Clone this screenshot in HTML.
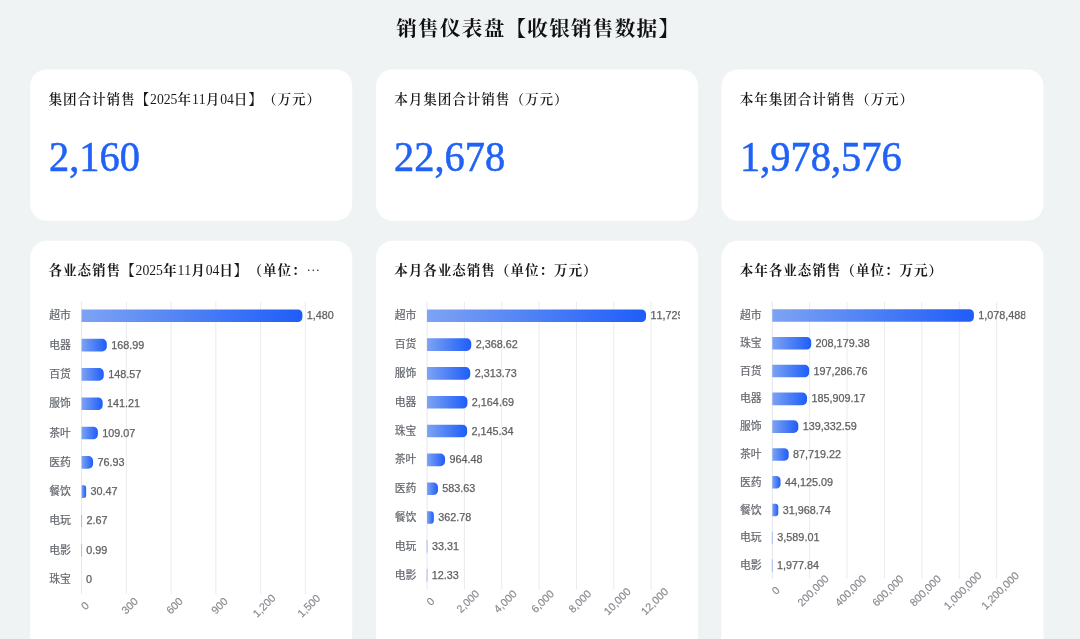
<!DOCTYPE html>
<html lang="zh-CN">
<head>
<meta charset="utf-8">
<title>销售仪表盘【收银销售数据】</title>
<style>
html,body{margin:0;padding:0;}
body{width:1080px;height:639px;overflow:hidden;background:#eff3f4;position:relative;
 font-family:"Liberation Serif","Noto Serif CJK SC",serif;color:#1a1a1a;
 text-spacing-trim:space-all;font-kerning:none;font-feature-settings:"chws" 0,"halt" 0,"palt" 0;}
.title{position:absolute;left:0;width:1076.5px;top:11.5px;height:34px;line-height:34px;text-align:center;
 font-size:20.6px;letter-spacing:1.25px;font-weight:700;color:#111;white-space:nowrap;}
.card{position:absolute;width:322.0px;box-sizing:border-box;}
.kpi{top:69.4px;height:151.4px;}
.chart{top:240.9px;height:420px;}
.ct{position:absolute;left:18.2px;right:16px;top:19.5px;height:22px;line-height:22px;font-size:13.6px;letter-spacing:0.93px;font-weight:600;
 white-space:nowrap;overflow:hidden;color:#1a1a1a;}
.el{font-family:"Noto Serif CJK SC",serif;line-height:0;}
.num{position:absolute;left:18.4px;top:60.1px;height:56px;line-height:56px;font-size:42px;color:#2062f6;
 font-family:"Liberation Serif",serif;white-space:nowrap;transform:scaleX(0.962);transform-origin:0 0;-webkit-text-stroke:0.55px #2062f6;}
.d{font-weight:400;font-size:13.7px;letter-spacing:0;line-height:0;}
.chart .ct{font-weight:700;}
svg{position:absolute;left:0;top:0;}
svg text{font-family:"Liberation Sans","Noto Sans CJK SC",sans-serif;font-size:10.8px;}
.cat{fill:#62666d;stroke:#62666d;stroke-width:0.2px;}
.val{fill:#606060;stroke:#606060;stroke-width:0.25px;}
.tick{fill:#86898e;stroke:#86898e;stroke-width:0.15px;}
</style>
</head>
<body>
<div class="title">销售仪表盘【收银销售数据】</div>
<svg width="1080" height="639" viewBox="0 0 1080 639">
<defs><linearGradient id="g" x1="0" y1="0" x2="1" y2="0"><stop offset="0" stop-color="#7da3f3"/><stop offset="1" stop-color="#1e5df8"/></linearGradient></defs>
<rect x="30.2" y="69.4" width="322.0" height="151.4" rx="16.5" ry="16.5" fill="#fff"/>
<rect x="30.2" y="240.85" width="322.0" height="420" rx="16.5" ry="16.5" fill="#fff"/>
<rect x="376.0" y="69.4" width="322.0" height="151.4" rx="16.5" ry="16.5" fill="#fff"/>
<rect x="376.0" y="240.85" width="322.0" height="420" rx="16.5" ry="16.5" fill="#fff"/>
<rect x="721.5" y="69.4" width="322.0" height="151.4" rx="16.5" ry="16.5" fill="#fff"/>
<rect x="721.5" y="240.85" width="322.0" height="420" rx="16.5" ry="16.5" fill="#fff"/>
<clipPath id="clip0"><rect x="30.2" y="240" width="303.9" height="400"/></clipPath>
<g>
<line x1="81.60" y1="301.7" x2="81.60" y2="594.0" stroke="#e4e7ee" stroke-width="1"/>
<line x1="126.36" y1="301.7" x2="126.36" y2="594.0" stroke="#e8ebf1" stroke-width="1"/>
<line x1="171.12" y1="301.7" x2="171.12" y2="594.0" stroke="#e8ebf1" stroke-width="1"/>
<line x1="215.88" y1="301.7" x2="215.88" y2="594.0" stroke="#e8ebf1" stroke-width="1"/>
<line x1="260.64" y1="301.7" x2="260.64" y2="594.0" stroke="#e8ebf1" stroke-width="1"/>
<line x1="305.40" y1="301.7" x2="305.40" y2="594.0" stroke="#e8ebf1" stroke-width="1"/>
<text class="tick" x="84.90" y="605.60" text-anchor="middle" dominant-baseline="central" transform="rotate(-45 84.90 605.60)">0</text>
<text class="tick" x="129.66" y="605.60" text-anchor="middle" dominant-baseline="central" transform="rotate(-45 129.66 605.60)">300</text>
<text class="tick" x="174.42" y="605.60" text-anchor="middle" dominant-baseline="central" transform="rotate(-45 174.42 605.60)">600</text>
<text class="tick" x="219.18" y="605.60" text-anchor="middle" dominant-baseline="central" transform="rotate(-45 219.18 605.60)">900</text>
<text class="tick" x="263.94" y="605.60" text-anchor="middle" dominant-baseline="central" transform="rotate(-45 263.94 605.60)">1,200</text>
<text class="tick" x="308.70" y="605.60" text-anchor="middle" dominant-baseline="central" transform="rotate(-45 308.70 605.60)">1,500</text>
<g clip-path="url(#clip0)">
<text class="cat" x="70.80" y="319.30" text-anchor="end">超市</text>
<path d="M81.60 309.50H297.82A4.60 4.60 0 0 1 302.42 314.10V317.50A4.60 4.60 0 0 1 297.82 322.10H81.60Z" fill="url(#g)"/>
<text class="val" x="306.82" y="319.30">1,480</text>
<text class="cat" x="70.80" y="348.61" text-anchor="end">电器</text>
<path d="M81.60 338.81H102.21A4.60 4.60 0 0 1 106.81 343.41V346.81A4.60 4.60 0 0 1 102.21 351.41H81.60Z" fill="url(#g)"/>
<text class="val" x="111.21" y="348.61">168.99</text>
<text class="cat" x="70.80" y="377.92" text-anchor="end">百货</text>
<path d="M81.60 368.12H99.17A4.60 4.60 0 0 1 103.77 372.72V376.12A4.60 4.60 0 0 1 99.17 380.72H81.60Z" fill="url(#g)"/>
<text class="val" x="108.17" y="377.92">148.57</text>
<text class="cat" x="70.80" y="407.23" text-anchor="end">服饰</text>
<path d="M81.60 397.43H98.07A4.60 4.60 0 0 1 102.67 402.03V405.43A4.60 4.60 0 0 1 98.07 410.03H81.60Z" fill="url(#g)"/>
<text class="val" x="107.07" y="407.23">141.21</text>
<text class="cat" x="70.80" y="436.54" text-anchor="end">茶叶</text>
<path d="M81.60 426.74H93.27A4.60 4.60 0 0 1 97.87 431.34V434.74A4.60 4.60 0 0 1 93.27 439.34H81.60Z" fill="url(#g)"/>
<text class="val" x="102.27" y="436.54">109.07</text>
<text class="cat" x="70.80" y="465.85" text-anchor="end">医药</text>
<path d="M81.60 456.05H88.48A4.60 4.60 0 0 1 93.08 460.65V464.05A4.60 4.60 0 0 1 88.48 468.65H81.60Z" fill="url(#g)"/>
<text class="val" x="97.48" y="465.85">76.93</text>
<text class="cat" x="70.80" y="495.16" text-anchor="end">餐饮</text>
<path d="M81.60 485.36H83.87A2.27 2.27 0 0 1 86.15 487.63V495.69A2.27 2.27 0 0 1 83.87 497.96H81.60Z" fill="url(#g)"/>
<text class="val" x="90.55" y="495.16">30.47</text>
<text class="cat" x="70.80" y="524.47" text-anchor="end">电玩</text>
<rect x="81.10" y="514.67" width="1" height="12.6" fill="#a9c0f3"/>
<text class="val" x="86.40" y="524.47">2.67</text>
<text class="cat" x="70.80" y="553.78" text-anchor="end">电影</text>
<rect x="81.10" y="543.98" width="1" height="12.6" fill="#a9c0f3"/>
<text class="val" x="86.15" y="553.78">0.99</text>
<text class="cat" x="70.80" y="583.09" text-anchor="end">珠宝</text>
<text class="val" x="86.00" y="583.09">0</text>
</g></g>
<clipPath id="clip1"><rect x="376.0" y="240" width="303.9" height="400"/></clipPath>
<g>
<line x1="427.05" y1="301.7" x2="427.05" y2="589.6" stroke="#e4e7ee" stroke-width="1"/>
<line x1="464.39" y1="301.7" x2="464.39" y2="589.6" stroke="#e8ebf1" stroke-width="1"/>
<line x1="501.73" y1="301.7" x2="501.73" y2="589.6" stroke="#e8ebf1" stroke-width="1"/>
<line x1="539.08" y1="301.7" x2="539.08" y2="589.6" stroke="#e8ebf1" stroke-width="1"/>
<line x1="576.42" y1="301.7" x2="576.42" y2="589.6" stroke="#e8ebf1" stroke-width="1"/>
<line x1="613.76" y1="301.7" x2="613.76" y2="589.6" stroke="#e8ebf1" stroke-width="1"/>
<line x1="651.10" y1="301.7" x2="651.10" y2="589.6" stroke="#e8ebf1" stroke-width="1"/>
<text class="tick" x="430.35" y="601.20" text-anchor="middle" dominant-baseline="central" transform="rotate(-45 430.35 601.20)">0</text>
<text class="tick" x="467.69" y="601.20" text-anchor="middle" dominant-baseline="central" transform="rotate(-45 467.69 601.20)">2,000</text>
<text class="tick" x="505.03" y="601.20" text-anchor="middle" dominant-baseline="central" transform="rotate(-45 505.03 601.20)">4,000</text>
<text class="tick" x="542.38" y="601.20" text-anchor="middle" dominant-baseline="central" transform="rotate(-45 542.38 601.20)">6,000</text>
<text class="tick" x="579.72" y="601.20" text-anchor="middle" dominant-baseline="central" transform="rotate(-45 579.72 601.20)">8,000</text>
<text class="tick" x="617.06" y="601.20" text-anchor="middle" dominant-baseline="central" transform="rotate(-45 617.06 601.20)">10,000</text>
<text class="tick" x="654.40" y="601.20" text-anchor="middle" dominant-baseline="central" transform="rotate(-45 654.40 601.20)">12,000</text>
<g clip-path="url(#clip1)">
<text class="cat" x="416.25" y="319.25" text-anchor="end">超市</text>
<path d="M427.05 309.45H641.45A4.60 4.60 0 0 1 646.05 314.05V317.45A4.60 4.60 0 0 1 641.45 322.05H427.05Z" fill="url(#g)"/>
<text class="val" x="650.45" y="319.25">11,729.5</text>
<text class="cat" x="416.25" y="348.08" text-anchor="end">百货</text>
<path d="M427.05 338.28H466.67A4.60 4.60 0 0 1 471.27 342.88V346.28A4.60 4.60 0 0 1 466.67 350.88H427.05Z" fill="url(#g)"/>
<text class="val" x="475.67" y="348.08">2,368.62</text>
<text class="cat" x="416.25" y="376.91" text-anchor="end">服饰</text>
<path d="M427.05 367.11H465.65A4.60 4.60 0 0 1 470.25 371.71V375.11A4.60 4.60 0 0 1 465.65 379.71H427.05Z" fill="url(#g)"/>
<text class="val" x="474.65" y="376.91">2,313.73</text>
<text class="cat" x="416.25" y="405.74" text-anchor="end">电器</text>
<path d="M427.05 395.94H462.87A4.60 4.60 0 0 1 467.47 400.54V403.94A4.60 4.60 0 0 1 462.87 408.54H427.05Z" fill="url(#g)"/>
<text class="val" x="471.87" y="405.74">2,164.69</text>
<text class="cat" x="416.25" y="434.57" text-anchor="end">珠宝</text>
<path d="M427.05 424.77H462.51A4.60 4.60 0 0 1 467.11 429.37V432.77A4.60 4.60 0 0 1 462.51 437.37H427.05Z" fill="url(#g)"/>
<text class="val" x="471.51" y="434.57">2,145.34</text>
<text class="cat" x="416.25" y="463.40" text-anchor="end">茶叶</text>
<path d="M427.05 453.60H440.46A4.60 4.60 0 0 1 445.06 458.20V461.60A4.60 4.60 0 0 1 440.46 466.20H427.05Z" fill="url(#g)"/>
<text class="val" x="449.46" y="463.40">964.48</text>
<text class="cat" x="416.25" y="492.23" text-anchor="end">医药</text>
<path d="M427.05 482.43H433.35A4.60 4.60 0 0 1 437.95 487.03V490.43A4.60 4.60 0 0 1 433.35 495.03H427.05Z" fill="url(#g)"/>
<text class="val" x="442.35" y="492.23">583.63</text>
<text class="cat" x="416.25" y="521.06" text-anchor="end">餐饮</text>
<path d="M427.05 511.26H430.44A3.39 3.39 0 0 1 433.82 514.65V520.47A3.39 3.39 0 0 1 430.44 523.86H427.05Z" fill="url(#g)"/>
<text class="val" x="438.22" y="521.06">362.78</text>
<text class="cat" x="416.25" y="549.89" text-anchor="end">电玩</text>
<rect x="426.55" y="540.09" width="1" height="12.6" fill="#a9c0f3"/>
<text class="val" x="432.07" y="549.89">33.31</text>
<text class="cat" x="416.25" y="578.72" text-anchor="end">电影</text>
<rect x="426.55" y="568.92" width="1" height="12.6" fill="#a9c0f3"/>
<text class="val" x="431.68" y="578.72">12.33</text>
</g></g>
<clipPath id="clip2"><rect x="721.5" y="240" width="303.9" height="400"/></clipPath>
<g>
<line x1="772.30" y1="301.7" x2="772.30" y2="578.8" stroke="#e4e7ee" stroke-width="1"/>
<line x1="809.68" y1="301.7" x2="809.68" y2="578.8" stroke="#e8ebf1" stroke-width="1"/>
<line x1="847.07" y1="301.7" x2="847.07" y2="578.8" stroke="#e8ebf1" stroke-width="1"/>
<line x1="884.45" y1="301.7" x2="884.45" y2="578.8" stroke="#e8ebf1" stroke-width="1"/>
<line x1="921.83" y1="301.7" x2="921.83" y2="578.8" stroke="#e8ebf1" stroke-width="1"/>
<line x1="959.22" y1="301.7" x2="959.22" y2="578.8" stroke="#e8ebf1" stroke-width="1"/>
<line x1="996.60" y1="301.7" x2="996.60" y2="578.8" stroke="#e8ebf1" stroke-width="1"/>
<text class="tick" x="775.60" y="590.40" text-anchor="middle" dominant-baseline="central" transform="rotate(-45 775.60 590.40)">0</text>
<text class="tick" x="812.98" y="590.40" text-anchor="middle" dominant-baseline="central" transform="rotate(-45 812.98 590.40)">200,000</text>
<text class="tick" x="850.37" y="590.40" text-anchor="middle" dominant-baseline="central" transform="rotate(-45 850.37 590.40)">400,000</text>
<text class="tick" x="887.75" y="590.40" text-anchor="middle" dominant-baseline="central" transform="rotate(-45 887.75 590.40)">600,000</text>
<text class="tick" x="925.13" y="590.40" text-anchor="middle" dominant-baseline="central" transform="rotate(-45 925.13 590.40)">800,000</text>
<text class="tick" x="962.52" y="590.40" text-anchor="middle" dominant-baseline="central" transform="rotate(-45 962.52 590.40)">1,000,000</text>
<text class="tick" x="999.90" y="590.40" text-anchor="middle" dominant-baseline="central" transform="rotate(-45 999.90 590.40)">1,200,000</text>
<g clip-path="url(#clip2)">
<text class="cat" x="761.50" y="318.95" text-anchor="end">超市</text>
<path d="M772.30 309.15H969.29A4.60 4.60 0 0 1 973.89 313.75V317.15A4.60 4.60 0 0 1 969.29 321.75H772.30Z" fill="url(#g)"/>
<text class="val" x="978.29" y="318.95">1,078,488.5</text>
<text class="cat" x="761.50" y="346.75" text-anchor="end">珠宝</text>
<path d="M772.30 336.95H806.61A4.60 4.60 0 0 1 811.21 341.55V344.95A4.60 4.60 0 0 1 806.61 349.55H772.30Z" fill="url(#g)"/>
<text class="val" x="815.61" y="346.75">208,179.38</text>
<text class="cat" x="761.50" y="374.55" text-anchor="end">百货</text>
<path d="M772.30 364.75H804.58A4.60 4.60 0 0 1 809.18 369.35V372.75A4.60 4.60 0 0 1 804.58 377.35H772.30Z" fill="url(#g)"/>
<text class="val" x="813.58" y="374.55">197,286.76</text>
<text class="cat" x="761.50" y="402.35" text-anchor="end">电器</text>
<path d="M772.30 392.55H802.45A4.60 4.60 0 0 1 807.05 397.15V400.55A4.60 4.60 0 0 1 802.45 405.15H772.30Z" fill="url(#g)"/>
<text class="val" x="811.45" y="402.35">185,909.17</text>
<text class="cat" x="761.50" y="430.15" text-anchor="end">服饰</text>
<path d="M772.30 420.35H793.74A4.60 4.60 0 0 1 798.34 424.95V428.35A4.60 4.60 0 0 1 793.74 432.95H772.30Z" fill="url(#g)"/>
<text class="val" x="802.74" y="430.15">139,332.59</text>
<text class="cat" x="761.50" y="457.95" text-anchor="end">茶叶</text>
<path d="M772.30 448.15H784.10A4.60 4.60 0 0 1 788.70 452.75V456.15A4.60 4.60 0 0 1 784.10 460.75H772.30Z" fill="url(#g)"/>
<text class="val" x="793.10" y="457.95">87,719.22</text>
<text class="cat" x="761.50" y="485.75" text-anchor="end">医药</text>
<path d="M772.30 475.95H776.42A4.12 4.12 0 0 1 780.55 480.07V484.43A4.12 4.12 0 0 1 776.42 488.55H772.30Z" fill="url(#g)"/>
<text class="val" x="784.95" y="485.75">44,125.09</text>
<text class="cat" x="761.50" y="513.55" text-anchor="end">餐饮</text>
<path d="M772.30 503.75H775.29A2.99 2.99 0 0 1 778.28 506.74V513.36A2.99 2.99 0 0 1 775.29 516.35H772.30Z" fill="url(#g)"/>
<text class="val" x="782.68" y="513.55">31,968.74</text>
<text class="cat" x="761.50" y="541.35" text-anchor="end">电玩</text>
<rect x="771.80" y="531.55" width="1" height="12.6" fill="#a9c0f3"/>
<text class="val" x="777.37" y="541.35">3,589.01</text>
<text class="cat" x="761.50" y="569.15" text-anchor="end">电影</text>
<rect x="771.80" y="559.35" width="1" height="12.6" fill="#a9c0f3"/>
<text class="val" x="777.07" y="569.15">1,977.84</text>
</g></g>
</svg>
<div class="card kpi" style="left:30.2px"><div class="ct">集团合计销售【<span class="d">2025</span>年<span class="d">11</span>月<span class="d">04</span>日】（万元）</div><div class="num">2,160</div></div>
<div class="card kpi" style="left:376.0px"><div class="ct">本月集团合计销售（万元）</div><div class="num">22,678</div></div>
<div class="card kpi" style="left:721.5px"><div class="ct">本年集团合计销售（万元）</div><div class="num">1,978,576</div></div>
<div class="card chart" style="left:30.2px"><div class="ct">各业态销售【<span class="d">2025</span>年<span class="d">11</span>月<span class="d">04</span>日】（单位：<span class="el">…</span></div></div>
<div class="card chart" style="left:376.0px"><div class="ct">本月各业态销售（单位：万元）</div></div>
<div class="card chart" style="left:721.5px"><div class="ct">本年各业态销售（单位：万元）</div></div>
</body>
</html>
